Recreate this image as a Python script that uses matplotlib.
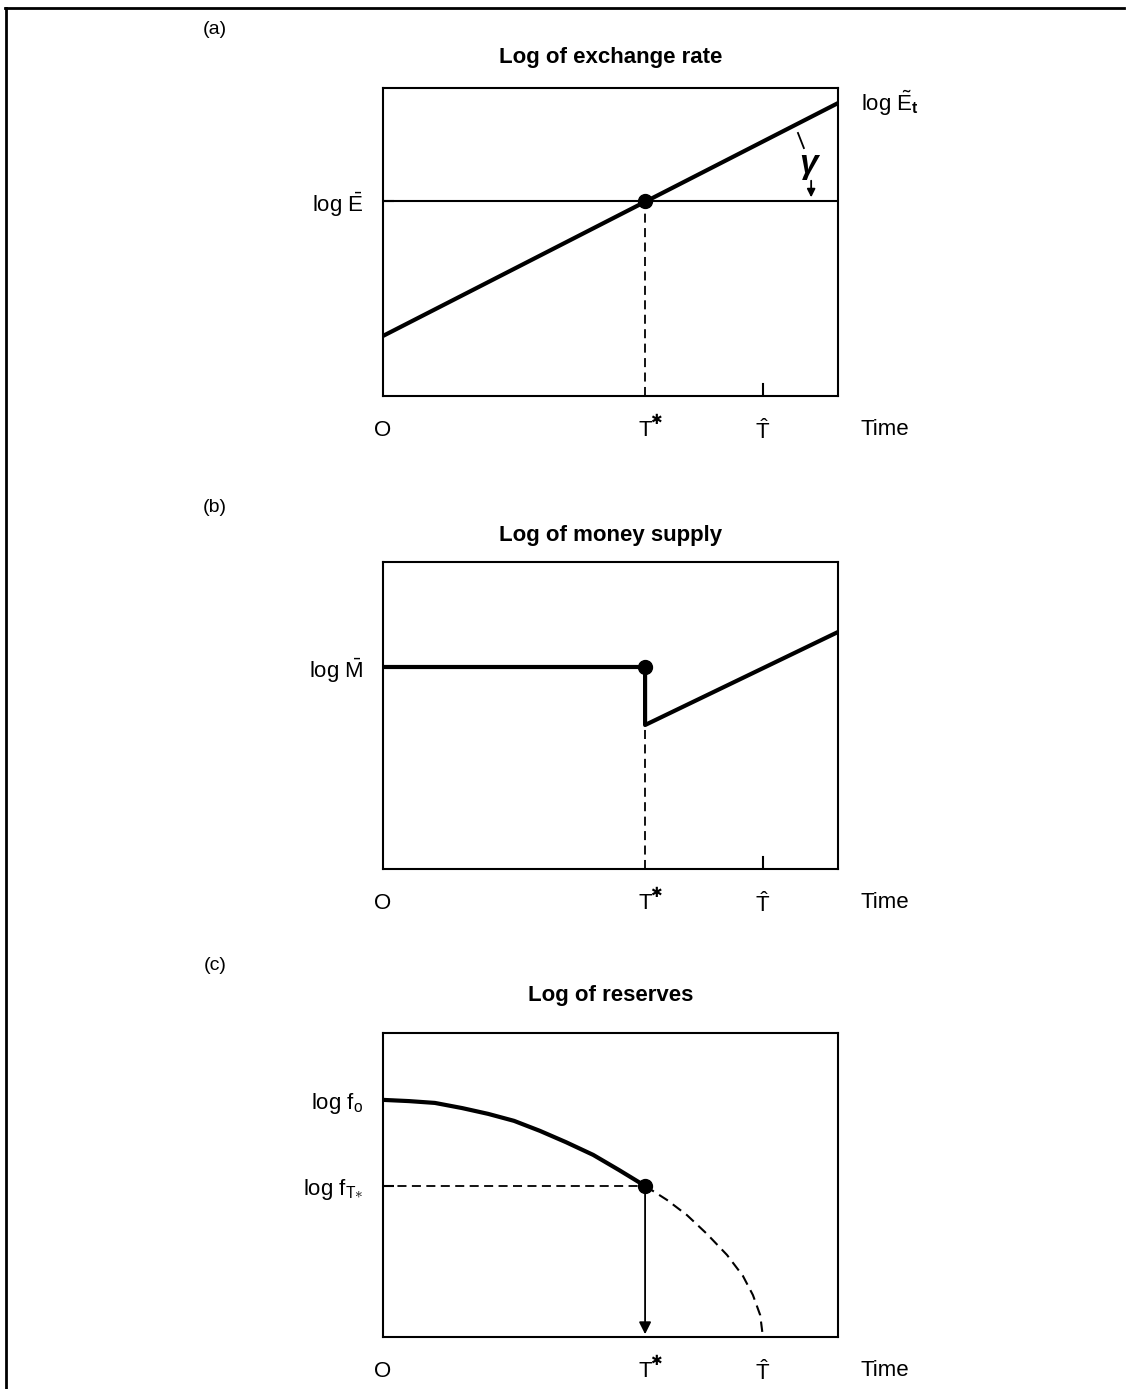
import matplotlib
matplotlib.use("Agg")
import matplotlib.pyplot as plt
from matplotlib.lines import Line2D

plt.rcParams['font.family'] = ['Liberation Sans', 'DejaVu Sans']
plt.rcParams['mathtext.fontset'] = 'custom'
plt.rcParams['mathtext.rm'] = 'Liberation Sans'
plt.rcParams['mathtext.it'] = 'Liberation Sans:italic'
plt.rcParams['mathtext.bf'] = 'Liberation Sans:bold'

# time points (axis runs 0..1)
t_star = 0.576
t_hat = 0.835

# (a) log of exchange rate
shadow_x = [0.0, 1.0]
shadow_y = [0.195, 0.951]
log_ebar = 0.633

# (b) log of money supply
money_x = [0.0, t_star, t_star, 1.0]
money_y = [0.658, 0.658, 0.469, 0.772]
log_mbar = 0.658

# (c) log of reserves
res_x = [0.000, 0.057, 0.114, 0.174, 0.231, 0.288, 0.345, 0.402, 0.462, 0.519, 0.576]
res_y = [0.780, 0.776, 0.770, 0.753, 0.734, 0.711, 0.678, 0.641, 0.599, 0.549, 0.497]
res_dash_x = [0.576, 0.624, 0.668, 0.712, 0.756, 0.791, 0.813, 0.829, 0.835]
res_dash_y = [0.497, 0.451, 0.401, 0.339, 0.270, 0.201, 0.138, 0.072, 0.0]
log_f0 = 0.780
log_fT = 0.497

xlabels = ['O', 'T', r'$\hat{\mathrm{T}}$']

W, H = 1129, 1389
fig = plt.figure(figsize=(W / 100, H / 100), dpi=100)

def make_ax(top, bottom):
    ax = fig.add_axes([383 / W, 1 - bottom / H, 455 / W, (bottom - top) / H])
    ax.set_xlim(0, 1)
    ax.set_ylim(0, 1)
    for s in ax.spines.values():
        s.set_linewidth(1.5)
    ax.set_xticks([0, t_star, t_hat])
    ax.set_xticklabels(xlabels, fontsize=16)
    ax.tick_params(axis='x', length=0, pad=17)
    ax.tick_params(axis='y', direction='in', length=8, width=1.5, pad=14, labelsize=16)
    ax.text(1.05, -0.11, 'Time', transform=ax.transAxes, fontsize=16, va='center', ha='left')
    # asterisk of T*
    ax.annotate('✱', xy=(t_star, 0), xycoords=('data', 'axes fraction'),
                xytext=(8, -17), textcoords='offset points', fontsize=10,
                ha='center', va='center')
    return ax

# frame around the page (top and left only)
fig.add_artist(Line2D([5 / W, 1124 / W], [1 - 8 / H, 1 - 8 / H], color='black', lw=2))
fig.add_artist(Line2D([6 / W, 6 / W], [1 - 8 / H, 0], color='black', lw=2))

# ---- (a)
ax = make_ax(88, 396)
fig.text(215 / W, 1 - 30 / H, '(a)', fontsize=14, ha='center', va='center')
fig.text(611 / W, 1 - 58 / H, 'Log of exchange rate', fontsize=16, fontweight='bold', ha='center', va='center')
ax.axhline(log_ebar, color='black', lw=1.5)
ax.plot(shadow_x, shadow_y, color='black', lw=3)
ax.plot([t_star], [log_ebar], 'o', color='black', ms=10)
ax.plot([t_star, t_star], [0, log_ebar], color='black', lw=1.3, ls=(0, (5, 3)))
ax.axvline(t_hat, ymax=0.04, color='black', lw=1.5)
ax.set_yticks([log_ebar])
ax.set_yticklabels([r'log $\bar{\mathrm{E}}$'])
ax.text(1.05, shadow_y[1], r'log $\tilde{\mathrm{E}}_{\mathbf{t}}$', fontsize=16, va='center', ha='left',
        transform=ax.transAxes)
ax.plot([0.912, 0.925], [0.854, 0.805], color='black', lw=1.3)
ax.text(0.936, 0.752, 'γ', fontsize=24, fontstyle='italic', fontweight='bold', ha='center', va='center')
ax.annotate('', xy=(0.941, log_ebar + 0.003), xytext=(0.941, 0.708),
            arrowprops=dict(arrowstyle='-|>', color='black', lw=1.3, mutation_scale=12))

# ---- (b)
ax = make_ax(562, 869)
fig.text(215 / W, 1 - 508 / H, '(b)', fontsize=14, ha='center', va='center')
fig.text(611 / W, 1 - 535 / H, 'Log of money supply', fontsize=16, fontweight='bold', ha='center', va='center')
ax.plot(money_x, money_y, color='black', lw=3)
ax.plot([t_star], [log_mbar], 'o', color='black', ms=10)
ax.plot([t_star, t_star], [0, money_y[2]], color='black', lw=1.3, ls=(0, (5, 3)))
ax.axvline(t_hat, ymax=0.04, color='black', lw=1.5)
ax.set_yticks([log_mbar])
ax.set_yticklabels([r'log $\bar{\mathrm{M}}$'])

# ---- (c)
ax = make_ax(1033, 1337)
fig.text(215 / W, 1 - 966 / H, '(c)', fontsize=14, ha='center', va='center')
fig.text(611 / W, 1 - 995 / H, 'Log of reserves', fontsize=16, fontweight='bold', ha='center', va='center')
ax.plot(res_x, res_y, color='black', lw=3, solid_joinstyle='round')
ax.plot(res_dash_x, res_dash_y, color='black', lw=1.5, ls=(0, (5, 3)))
ax.plot([0, t_star], [log_fT, log_fT], color='black', lw=1.3, ls=(0, (5, 3)))
ax.plot([t_star], [log_fT], 'o', color='black', ms=10)
ax.annotate('', xy=(t_star, 0), xytext=(t_star, log_fT),
            arrowprops=dict(arrowstyle='-|>', color='black', lw=1.3, mutation_scale=18))
ax.set_yticks([log_f0, log_fT])
ax.set_yticklabels([r'log f$_{\mathrm{o}}$', r'log f$_{\mathrm{T}\mathbf{\ast}}$'])

fig.savefig('out.png', dpi=100)
